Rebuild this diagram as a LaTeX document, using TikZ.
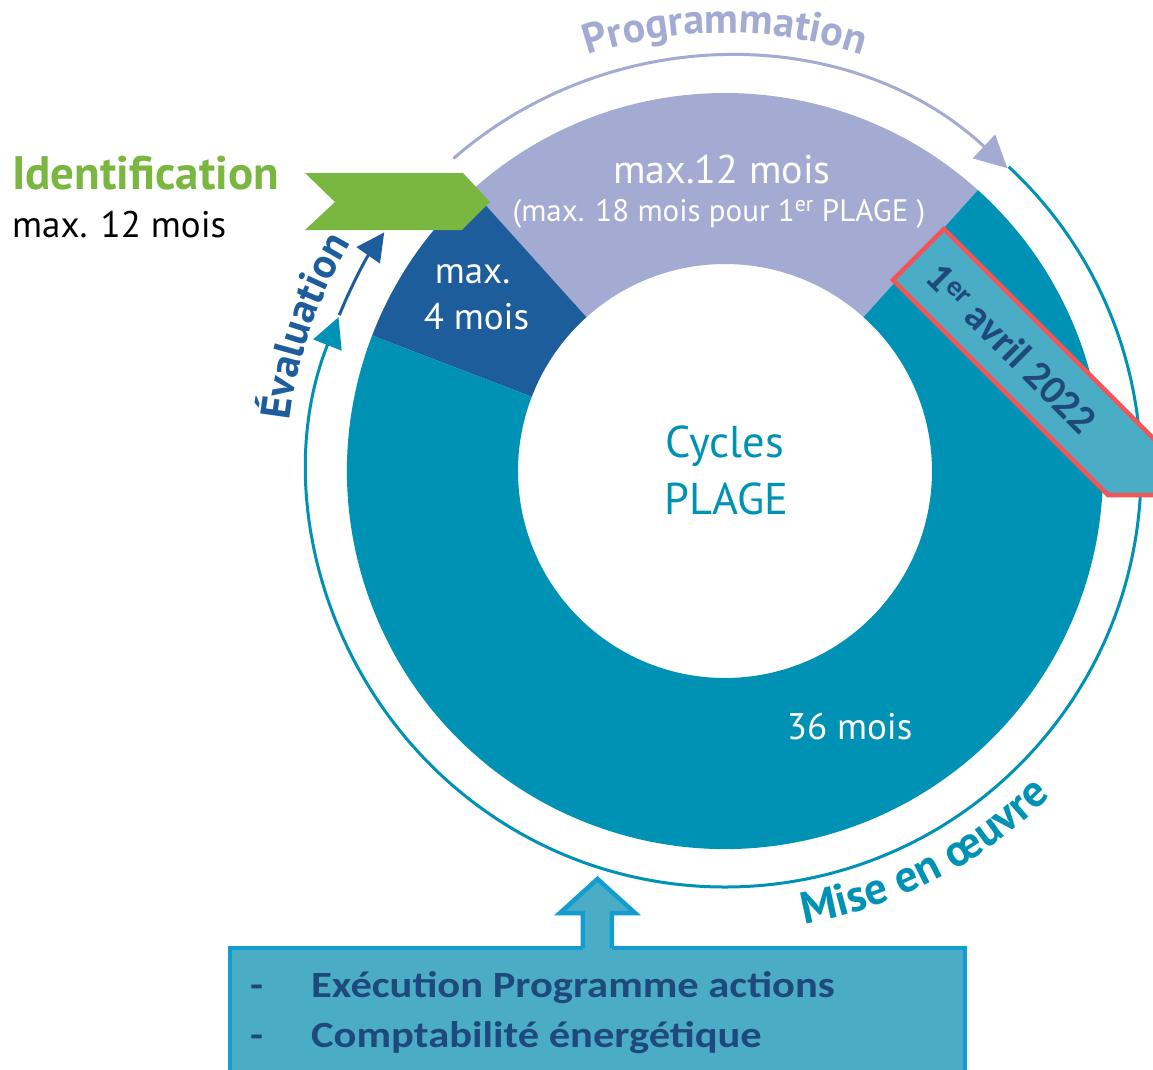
\documentclass[tikz,border=0pt]{standalone}
\usepackage{fontspec}
\setmainfont{PT Sans}
\newfontfamily\calfont{Carlito}
\usetikzlibrary{arrows.meta,decorations.text}
\definecolor{cpurp}{HTML}{A3ABD2}
\definecolor{cdblue}{HTML}{1D5D9C}
\definecolor{cteal}{HTML}{0092B4}
\definecolor{cgreen}{HTML}{79B740}
\definecolor{clteal}{HTML}{4BACC6}
\definecolor{cred}{HTML}{F25555}
\definecolor{cnavy}{HTML}{1F497D}
\definecolor{cboxb}{HTML}{139DCF}
\tikzset{
  lbl/.style={inner sep=0pt, anchor=base},
  lblw/.style={inner sep=0pt, anchor=base west},
  cyc/.style={line width=3pt},
  boxtxt/.style={inner sep=0pt, anchor=base west, text=cnavy, xscale=1.15, font=\calfont\bfseries\fontsize{37}{37}\selectfont},
}
\begin{document}
\begin{tikzpicture}[x=1pt,y=1pt]
\useasboundingbox (-725,-598) rectangle (428,471);
\clip (-725,-598) rectangle (428,471);
% donut segments
\fill[cpurp] (48:378pt) arc[start angle=48,end angle=132,radius=378pt] -- (132:207pt) arc[start angle=132,end angle=48,radius=207pt] -- cycle;
\fill[cdblue] (132:378pt) arc[start angle=132,end angle=159,radius=378pt] -- (159:207pt) arc[start angle=159,end angle=132,radius=207pt] -- cycle;
\fill[cteal] (159:378pt) arc[start angle=159,end angle=408,radius=378pt] -- (48:207pt) arc[start angle=408,end angle=159,radius=207pt] -- cycle;
% outer arcs
\draw[cyc, cdblue, -{Triangle[length=28pt,width=28pt]}] (158:416pt) arc[start angle=158,end angle=145,radius=416pt];
\draw[cyc, cteal, -{Triangle[length=30pt,width=30pt]}] (47:416pt) arc[start angle=47,end angle=-201.7,radius=416pt];
\draw[cyc, cpurp, -{Triangle[length=32pt,width=32pt]}] (131:414pt) arc[start angle=131,end angle=47,radius=414pt];
% arc texts
\path[decorate, decoration={text along path, text align=center,
  text={|\bfseries\fontsize{42}{44}\selectfont\color{cpurp}|Programmation}}]
  (125:438pt) arc[start angle=125,end angle=55,radius=438pt];
\path[decorate, decoration={text along path, text align=center,
  text={|\bfseries\fontsize{45}{46}\selectfont\color{cteal}|Mise en œuvre}}]
  (-100:460pt) arc[start angle=-100,end angle=-25,radius=460pt];
\path[decorate, decoration={text along path, text align=center,
  text={|\bfseries\fontsize{42}{44}\selectfont\color{cdblue}|Évaluation}}]
  (186:438pt) arc[start angle=186,end angle=136,radius=438pt];
% green chevron
\fill[cgreen] (-420,298) -- (-262,298) -- (-235,269) -- (-263,241) -- (-420,241) -- (-390,269) -- cycle;
% banner
\draw[cred, line width=4.5pt, fill=clteal, line join=miter] (219,242) -- (168,191) -- (383,-24) -- (434,-24) -- (434,27) -- cycle;
\node[inner sep=0pt, rotate=-45, text=cnavy, font=\calfont\bfseries\fontsize{41}{41}\selectfont] (date) at (287,123) {1\textsuperscript{er} avril 2022};
% texts
\node[lblw, text=cgreen, font=\bfseries\fontsize{47}{47}\selectfont] (ident) at (-713,282) {Identification};
\node[lblw, text=black, font=\fontsize{37}{37}\selectfont] (identd) at (-713,234) {max. 12 mois};
\node[lbl, text=white, font=\fontsize{40}{40}\selectfont] (prog1) at (-3,288) {max.12 mois};
\node[lbl, text=white, font=\fontsize{31}{31}\selectfont] (prog2) at (-6,250) {(max. 18 mois pour 1\textsuperscript{er} PLAGE )};
\node[lbl, text=white, font=\fontsize{37}{37}\selectfont] (eval1) at (-252.5,188) {max.};
\node[lbl, text=white, font=\fontsize{37}{37}\selectfont] (eval2) at (-248.5,142) {4 mois};
\node[lbl, text=cteal, font=\fontsize{44.5}{44.5}\selectfont] (cyc1) at (0,14) {Cycles};
\node[lbl, text=cteal, font=\fontsize{44.5}{44.5}\selectfont] (cyc2) at (1.7,-43) {PLAGE};
\node[lblw, text=white, font=\fontsize{37}{37}\selectfont] (mois36) at (61.7,-268) {36 mois};
% bottom box
\draw[cboxb, line width=4.5pt, fill=clteal] (-495,-477) rectangle (240,-640);
\fill[clteal] (-142,-481) -- (-142,-442) -- (-165,-442) -- (-127.5,-408) -- (-90,-442) -- (-113,-442) -- (-113,-481) -- cycle;
\draw[cboxb, line width=4.5pt, line join=miter] (-142,-477) -- (-142,-442) -- (-165,-442) -- (-127.5,-408) -- (-90,-442) -- (-113,-442) -- (-113,-477);
\node[boxtxt] (d1) at (-475,-526) {-};
\node[boxtxt] (t1) at (-414,-526) {Exécution Programme actions};
\node[boxtxt] (d2) at (-475,-576) {-};
\node[boxtxt] (t2) at (-414,-576) {Comptabilité énergétique};
\end{tikzpicture}
\end{document}
